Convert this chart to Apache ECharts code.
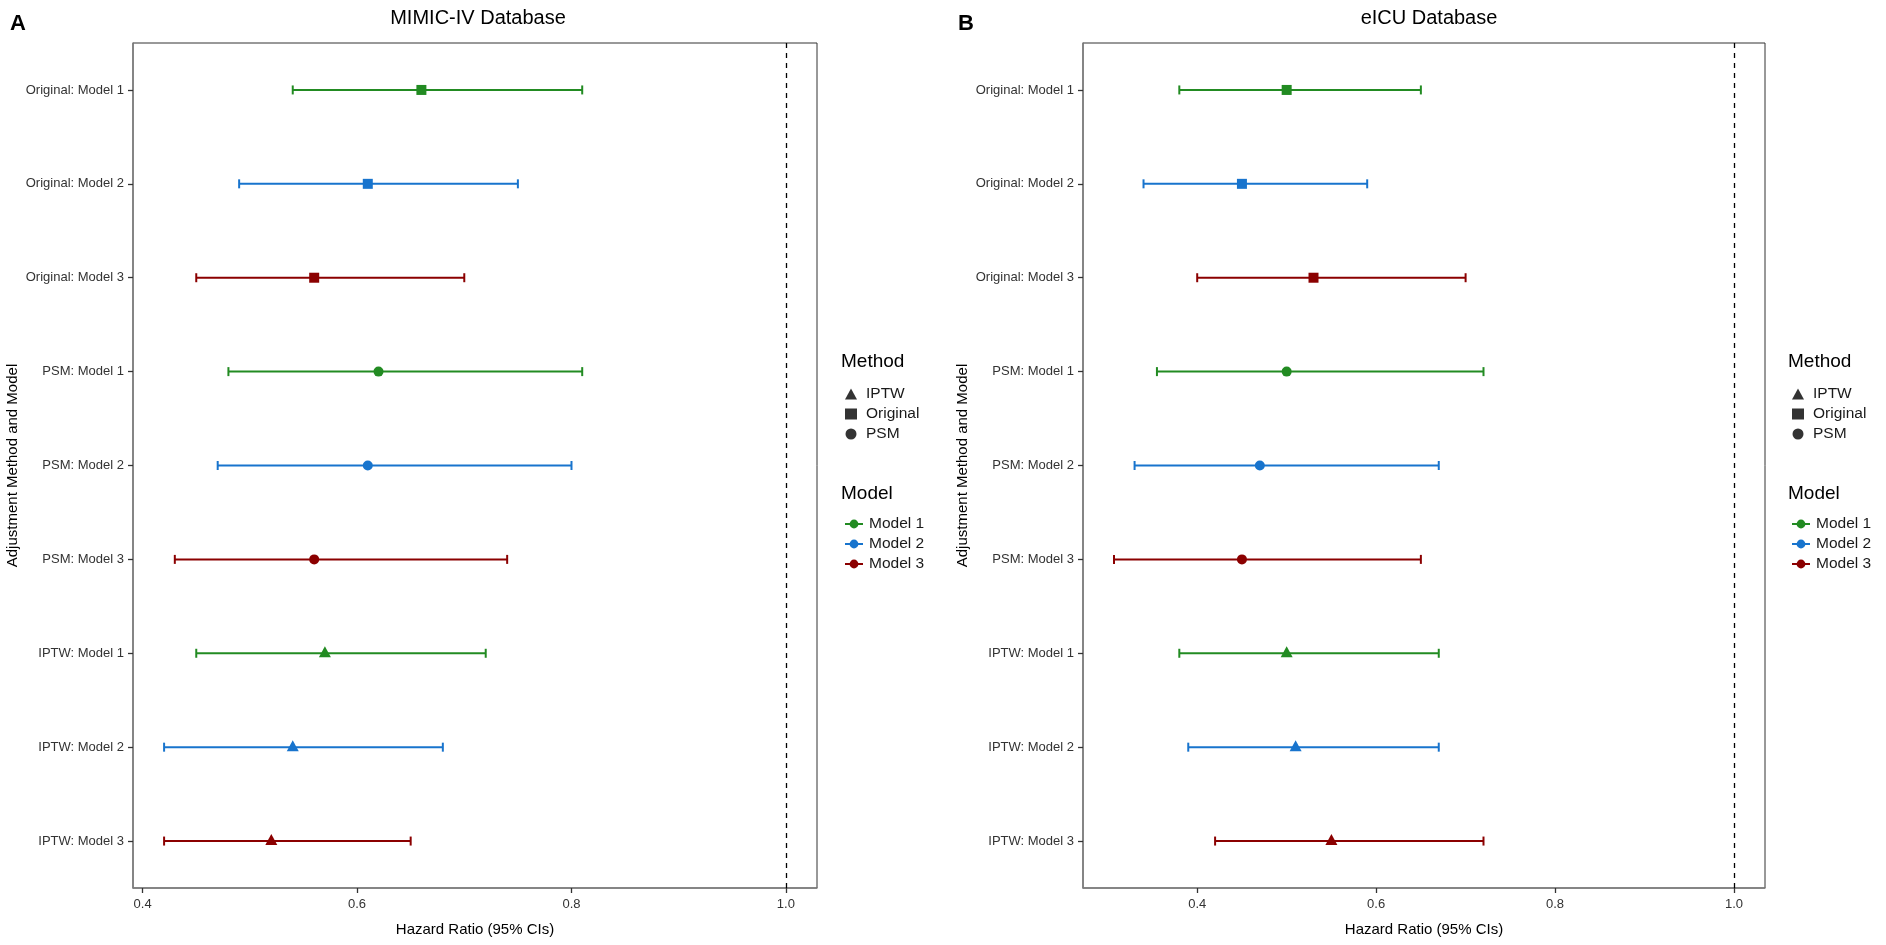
<!DOCTYPE html>
<html><head><meta charset="utf-8">
<script src="https://cdn.jsdelivr.net/npm/echarts@6/dist/echarts.min.js"></script>
<style>html,body{margin:0;padding:0;background:#fff}#c{width:1886px;height:945px}</style>
</head><body><div id="c"></div>
<script>
// ---- data ----
const categories = ['Original: Model 1','Original: Model 2','Original: Model 3','PSM: Model 1','PSM: Model 2','PSM: Model 3','IPTW: Model 1','IPTW: Model 2','IPTW: Model 3'];
const methods = ['Original','Original','Original','PSM','PSM','PSM','IPTW','IPTW','IPTW'];
const models = ['Model 1','Model 2','Model 3','Model 1','Model 2','Model 3','Model 1','Model 2','Model 3'];
const mimicHR    = [0.66,0.61,0.56,0.62,0.61,0.56,0.57,0.54,0.52];
const mimicLower = [0.54,0.49,0.45,0.48,0.47,0.43,0.45,0.42,0.42];
const mimicUpper = [0.81,0.75,0.70,0.81,0.80,0.74,0.72,0.68,0.65];
const eicuHR     = [0.50,0.45,0.53,0.50,0.47,0.45,0.50,0.51,0.55];
const eicuLower  = [0.38,0.34,0.40,0.355,0.33,0.307,0.38,0.39,0.42];
const eicuUpper  = [0.65,0.59,0.70,0.72,0.67,0.65,0.67,0.67,0.72];
const xTicks = [0.4,0.6,0.8,1.0];
const refLine = 1.0;
const methodOrder = ['IPTW','Original','PSM'];
const modelOrder = ['Model 1','Model 2','Model 3'];

// ---- styles ----
const modelColors = {'Model 1':'#228B22','Model 2':'#1874CD','Model 3':'#8B0000'};
const methodSymbols = {IPTW:'triangle', Original:'rect', PSM:'circle'};
const methodSizes = {IPTW:[12,11], Original:10, PSM:10};
const FONT = 'Liberation Sans, Arial, Helvetica, sans-serif';

function expandRange(lo, hi){
  const mn = Math.min(...lo, refLine), mx = Math.max(...hi, refLine);
  const pad = (mx - mn) * 0.05;
  return [mn - pad, mx + pad];
}
const panels = [
  {hr: mimicHR, lo: mimicLower, hi: mimicUpper, grid:{left:133, top:43, width:684, height:845}},
  {hr: eicuHR,  lo: eicuLower,  hi: eicuUpper,  grid:{left:1083, top:43, width:682, height:845}}
];

const grids = [], xAxes = [], yAxes = [], series = [];
panels.forEach((p, k) => {
  grids.push(Object.assign({show:true, borderColor:'#333', borderWidth:1, backgroundColor:'#fff'}, p.grid));
  const r = expandRange(p.lo, p.hi);
  xAxes.push({
    type:'value', gridIndex:k, min:r[0], max:r[1],
    name:'Hazard Ratio (95% CIs)', nameLocation:'middle', nameGap:34,
    nameTextStyle:{fontFamily:FONT, fontSize:15, color:'#000'},
    axisLine:{show:true, lineStyle:{color:'#7f7f7f', width:1.5}},
    axisTick:{show:true, length:5, lineStyle:{color:'#333', width:1.3}, customValues:xTicks},
    axisLabel:{fontFamily:FONT, fontSize:13, color:'#333', margin:10, customValues:xTicks,
      formatter: v => v.toFixed(1)},
    splitLine:{show:false}
  });
  yAxes.push({
    type:'category', gridIndex:k, data:categories, inverse:true, boundaryGap:true,
    name:'Adjustment Method and Model', nameLocation:'middle', nameGap:113,
    nameTextStyle:{fontFamily:FONT, fontSize:15, color:'#000'},
    axisLine:{show:true, lineStyle:{color:'#7f7f7f', width:1.5}},
    axisTick:{show:true, alignWithLabel:true, length:5, lineStyle:{color:'#333', width:1.3}},
    axisLabel:{fontFamily:FONT, fontSize:13, color:'#333', margin:9},
    splitLine:{show:false}
  });
  // error bars
  series.push({
    type:'custom', name:'CI'+k, xAxisIndex:k, yAxisIndex:k, silent:true,
    data: categories.map((c,i) => [p.lo[i], p.hi[i], i]),
    encode:{x:[0,1], y:2},
    renderItem: function(params, api){
      const i = api.value(2);
      const a = api.coord([api.value(0), i]);
      const b = api.coord([api.value(1), i]);
      const color = modelColors[models[i]];
      const h = 4.5, st = {stroke:color, lineWidth:2};
      return {type:'group', children:[
        {type:'line', shape:{x1:a[0], y1:a[1], x2:b[0], y2:b[1]}, style:st},
        {type:'line', shape:{x1:a[0], y1:a[1]-h, x2:a[0], y2:a[1]+h}, style:st},
        {type:'line', shape:{x1:b[0], y1:b[1]-h, x2:b[0], y2:b[1]+h}, style:st}
      ]};
    },
    z:2
  });
  // points per method
  methodOrder.forEach((m, mi) => {
    const s = {
      type:'scatter', name:m, xAxisIndex:k, yAxisIndex:k,
      symbol: methodSymbols[m], symbolSize: methodSizes[m],
      symbolOffset: m === 'IPTW' ? [0,-1.5] : [0,0],
      itemStyle:{color:'#000'},
      data: categories.map((c,i) => i).filter(i => methods[i] === m)
        .map(i => ({value:[p.hr[i], i], itemStyle:{color: modelColors[models[i]], opacity:1}})),
      z:3
    };
    if (mi === 0) {
      s.markLine = {silent:true, symbol:'none', label:{show:false},
        lineStyle:{color:'#000', width:1.3, type:[5,5]}, data:[{xAxis:refLine}]};
    }
    series.push(s);
  });
});
// dummy line series for Model legend
modelOrder.forEach(m => {
  series.push({type:'line', name:m, xAxisIndex:0, yAxisIndex:0, data:[],
    color: modelColors[m], symbol:'circle', symbolSize:8, lineStyle:{width:2, color:modelColors[m]},
    itemStyle:{color:modelColors[m]}});
});

function legendPair(x){
  return [
    {orient:'vertical', left:x + 2, top:381, itemWidth:12, itemHeight:11, itemGap:4,
     selectedMode:false,
     textStyle:{fontFamily:FONT, fontSize:15.5, color:'#1a1a1a', padding:[0,0,0,4]},
     data: methodOrder.map(m => ({name:m, icon:methodSymbols[m], itemStyle:{color:'#000'}}))},
    {orient:'vertical', left:x + 1, top:511, itemWidth:18, itemHeight:11, itemGap:4,
     selectedMode:false,
     textStyle:{fontFamily:FONT, fontSize:15.5, color:'#1a1a1a', padding:[0,0,0,1]},
     data: modelOrder}
  ];
}

const titleStyle = {fontFamily:FONT, fontSize:20, fontWeight:'normal', color:'#000'};
const legTitle = {fontFamily:FONT, fontSize:19, fontWeight:'normal', color:'#000'};
const option = {
  backgroundColor:'#fff',
  animation:false,
  title:[
    {text:'MIMIC-IV Database', left:473, top:3, textAlign:'center', textStyle:titleStyle},
    {text:'eICU Database', left:1424, top:3, textAlign:'center', textStyle:titleStyle},
    {text:'A', left:5, top:8, textStyle:{fontFamily:FONT, fontSize:22, fontWeight:'bold', color:'#000'}},
    {text:'B', left:953, top:8, textStyle:{fontFamily:FONT, fontSize:22, fontWeight:'bold', color:'#000'}},
    {text:'Method', left:836, top:347, textStyle:legTitle},
    {text:'Model', left:836, top:479, textStyle:legTitle},
    {text:'Method', left:1783, top:347, textStyle:legTitle},
    {text:'Model', left:1783, top:479, textStyle:legTitle}
  ],
  legend: legendPair(838).concat(legendPair(1785)),
  grid: grids, xAxis: xAxes, yAxis: yAxes, series: series
};
const chart = echarts.init(document.getElementById('c'), null, {renderer:'canvas'});
chart.setOption(option);
</script></body></html>
